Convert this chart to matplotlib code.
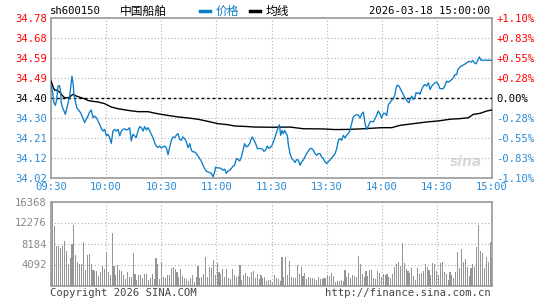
import numpy as np
import matplotlib
matplotlib.use("Agg")
import matplotlib.pyplot as plt

plt.rcParams['font.family'] = ['DejaVu Sans Mono', 'Noto Sans CJK SC']

# ---------------- data ----------------
prev_close = 34.40
y_labels_left = ["34.02", "34.12", "34.21", "34.30", "34.40", "34.49", "34.59", "34.68", "34.78"]
y_labels_right = ["-1.10%", "-0.83%", "-0.55%", "-0.28%", "0.00%", "+0.28%", "+0.55%", "+0.83%", "+1.10%"]
time_labels = ["09:30", "10:00", "10:30", "11:00", "11:30", "13:30", "14:00", "14:30", "15:00"]
vol_labels = ["", "4092", "8184", "12276", "16368"]
vol_ticks = [0, 4092, 8184, 12276, 16368]

price_min = [0, 0.9, 1.6, 2.4, 3.1, 3.8, 4.5, 5.1, 5.6, 6.3, 7.1, 7.8, 8.5, 9.3, 10.0, 10.7, 11.4, 12.0,
             12.5, 13.2, 14.0, 14.7, 15.4, 16.1, 16.9, 17.6, 18.3, 19.2, 20.1, 21.0, 21.9, 22.9, 23.8,
             24.7, 25.6, 26.5, 27.4, 28.3, 29.2, 30.1, 31.0, 31.9, 32.8, 33.7, 34.6, 35.6, 36.5, 37.4,
             38.3, 39.2, 40.1, 41.0, 41.9, 42.8, 43.7, 44.6, 45.5, 46.4, 47.3, 48.3, 49.2, 50.1, 51.0,
             51.9, 52.8, 53.7, 54.6, 55.5, 56.4, 57.3, 58.2,
             59.1, 60.0, 60.9, 61.9, 62.8, 63.7, 64.6, 65.5, 66.4, 67.3, 68.2, 69.1, 70.0, 70.9, 71.8,
             72.7, 73.6, 74.6, 75.5, 76.4, 77.3, 78.2, 79.1, 80.0, 80.9, 81.8, 82.7, 83.6, 84.5, 85.4,
             86.3, 87.3, 88.2, 89.1, 89.6, 90.5, 91.8, 92.7, 93.6, 94.5, 95.4, 96.3, 97.2, 98.1, 99.0,
             99.9, 100.9, 101.8, 102.7, 103.6, 104.5, 105.4, 106.3, 107.2, 108.1, 109.0, 109.6, 110.5,
             111.4, 112.3, 113.2, 114.1, 115.0, 115.9, 116.8, 117.7, 118.6, 119.5,
             120.1, 121.0, 121.9, 122.8, 123.7, 124.3, 125.0, 125.7, 126.4, 127.2, 127.9, 128.6, 129.2,
             130.1, 131.0, 131.9, 132.8, 133.7, 134.6, 135.5, 136.4, 137.3, 138.2, 139.1, 140.0, 141.0,
             141.9, 142.8, 143.7, 144.6, 145.5, 146.4, 147.3, 148.2, 149.1, 150.0, 150.9, 151.8, 152.7,
             153.7, 154.6, 155.5, 156.4, 157.3, 158.2, 159.1, 160.0, 160.9, 161.8, 162.7, 163.6, 164.5,
             165.4, 166.3, 167.3, 168.2, 169.1, 170.0, 170.9, 171.8, 172.7, 173.6, 174.5, 175.4, 176.3,
             177.2, 178.1, 179.0, 179.9,
             180.9, 181.8, 182.7, 183.6, 184.5, 185.4, 186.3, 187.2, 187.8, 188.5, 189.4, 190.3, 191.2,
             192.1, 193.0, 193.9, 194.8, 195.4, 196.3, 197.2, 198.1, 198.6, 199.4, 200.1, 200.8, 201.7,
             202.6, 203.5, 204.4, 205.4, 206.3, 207.2, 208.1, 209.0, 209.9, 210.8, 211.7, 212.6, 213.5,
             214.4, 215.3, 216.2, 217.1, 218.1, 219.0, 219.9, 220.8, 221.3, 222.2, 223.1, 224.0, 224.9,
             225.8, 226.8, 227.7, 228.6, 229.5, 230.4, 231.3, 232.2, 233.1, 234.0, 235.3, 237.1, 240.0]
price_val = [34.463, 34.424, 34.376, 34.364, 34.392, 34.455, 34.458, 34.439, 34.376, 34.353, 34.337,
             34.321, 34.345, 34.376, 34.400, 34.447, 34.502, 34.471, 34.416, 34.384, 34.353, 34.345,
             34.337, 34.329, 34.313, 34.298, 34.282, 34.298, 34.313, 34.332, 34.342, 34.305, 34.313,
             34.305, 34.290, 34.274, 34.253, 34.242, 34.250, 34.219, 34.227, 34.211, 34.184, 34.242,
             34.250, 34.242, 34.250, 34.219, 34.242, 34.250, 34.253, 34.247, 34.250, 34.258, 34.195,
             34.227, 34.219, 34.211, 34.242, 34.263, 34.258, 34.242, 34.263, 34.247, 34.258, 34.242,
             34.227, 34.211, 34.187, 34.171, 34.164,
             34.171, 34.162, 34.167, 34.171, 34.162, 34.130, 34.167, 34.198, 34.214, 34.211, 34.222,
             34.230, 34.203, 34.198, 34.214, 34.206, 34.193, 34.163, 34.182, 34.151, 34.143, 34.143,
             34.135, 34.124, 34.111, 34.099, 34.080, 34.064, 34.052, 34.048, 34.045, 34.041, 34.025,
             34.048, 34.072, 34.067, 34.067, 34.064, 34.056, 34.061, 34.041, 34.052, 34.056, 34.064,
             34.075, 34.080, 34.111, 34.108, 34.099, 34.119, 34.151, 34.182, 34.167, 34.171, 34.182,
             34.206, 34.214, 34.198, 34.182, 34.159, 34.159, 34.159, 34.156, 34.146, 34.151, 34.171,
             34.159, 34.167,
             34.170, 34.190, 34.214, 34.238, 34.261, 34.272, 34.222, 34.245, 34.230, 34.245, 34.230,
             34.222, 34.175, 34.135, 34.111, 34.104, 34.093, 34.107, 34.104, 34.080, 34.096, 34.104,
             34.119, 34.135, 34.146, 34.159, 34.159, 34.151, 34.135, 34.127, 34.135, 34.135, 34.119,
             34.111, 34.096, 34.088, 34.096, 34.104, 34.115, 34.124, 34.135, 34.159, 34.198, 34.206,
             34.198, 34.222, 34.209, 34.222, 34.230, 34.245, 34.277, 34.309, 34.316, 34.320, 34.316,
             34.304, 34.324, 34.332, 34.277, 34.249, 34.266, 34.285, 34.288, 34.285, 34.301, 34.316,
             34.337, 34.324, 34.304,
             34.326, 34.326, 34.316, 34.368, 34.376, 34.389, 34.395, 34.416, 34.447, 34.460, 34.455,
             34.439, 34.424, 34.408, 34.395, 34.384, 34.376, 34.392, 34.408, 34.392, 34.400, 34.424,
             34.420, 34.424, 34.416, 34.439, 34.455, 34.463, 34.455, 34.471, 34.439, 34.455, 34.463,
             34.471, 34.474, 34.463, 34.443, 34.443, 34.443, 34.458, 34.479, 34.474, 34.479, 34.487,
             34.495, 34.510, 34.510, 34.531, 34.542, 34.550, 34.553, 34.558, 34.562, 34.570, 34.573,
             34.569, 34.577, 34.566, 34.561, 34.578, 34.594, 34.578, 34.578, 34.578, 34.578]

avg_min = [0, 0.5, 1.3, 2.0, 2.9, 3.8, 4.7, 5.6, 6.5, 7.4, 9.3, 10.2, 11.1, 12.0, 13.8, 16.5, 18.3,
           20.1, 21.9, 25.6, 29.2, 32.8, 36.5, 41.9, 47.3, 52.8, 56.4, 58.8, 63.7, 69.1, 74.6, 80.0,
           85.4, 90.9, 96.3, 100.0, 105.4, 110.8, 119.9, 130.1, 137.3, 148.2, 154.6, 162.7, 170.0,
           180.0, 185.4, 189.9, 197.2, 204.4, 210.8, 217.1, 222.6, 227.1, 229.8, 233.5, 237.1, 240.0]
avg_val = [34.479, 34.468, 34.447, 34.436, 34.436, 34.432, 34.427, 34.416, 34.408, 34.400, 34.400,
           34.403, 34.411, 34.416, 34.408, 34.400, 34.395, 34.387, 34.384, 34.380, 34.372, 34.356,
           34.348, 34.340, 34.334, 34.334, 34.327, 34.323, 34.316, 34.309, 34.304, 34.298, 34.288,
           34.277, 34.272, 34.266, 34.264, 34.261, 34.260, 34.261, 34.253, 34.252, 34.249, 34.250,
           34.253, 34.258, 34.258, 34.269, 34.277, 34.285, 34.290, 34.298, 34.301, 34.305, 34.321,
           34.326, 34.337, 34.342]

volumes = [1960, 16368, 11590, 7660, 7660, 7330, 7700, 8700, 6740, 4250, 5300, 8050, 11780, 5960, 4520,
           4120, 4120, 8510, 3010, 5890, 6090, 4120, 2950, 2820, 2820, 1770, 2690, 3730, 3140, 6480,
           2620, 1960, 10210, 3730, 1960, 4060, 2950, 2750, 1960, 1180, 2550, 1570, 1640, 6290, 2160,
           980, 1960, 1960, 1370, 2290, 2160, 980, 1500, 2290, 1180, 5300, 4120, 1180, 4520, 1640, 1370,
           1960, 2090, 3340, 3540, 3140, 2550, 1570, 3140, 1770, 1500, 1180, 790, 1370, 1960, 650, 1570,
           3730, 1370, 1570, 2290, 5500, 1570, 3540, 3400, 4910, 1960, 4320, 2550, 2160, 3140, 1570,
           3140, 1370, 1180, 3140, 1960, 1570, 1770, 3930, 980, 1960, 2360, 1900, 1640, 2550, 2750,
           1370, 2160, 1180, 1960, 1370, 1570, 790, 980, 980, 590, 1960, 1370,
           1310, 790, 5500, 1570, 5500, 1960, 4710, 1570, 1370, 1370, 4060, 2160, 3540, 1770, 2360,
           1180, 1570, 1370, 1370, 1180, 980, 1570, 1180, 1180, 1370, 1370, 1960, 1830, 2360, 1770,
           590, 790, 850, 980, 790, 2950, 1570, 2360, 1370, 1960, 1770, 1570, 5700, 4120, 2160, 1570,
           2750, 1770, 2950, 2950, 1370, 1180, 2750, 2360, 1570, 2160, 1960, 2160, 1570, 1370, 2160,
           3540, 4120, 4520, 3730, 8250, 4320, 3140, 2750, 2360, 3340, 1770, 980, 3340, 2160, 2360,
           2750, 4120, 3540, 2950, 1960, 4320, 4120, 2750, 1960, 4320, 4650, 2550, 2160, 980, 2550,
           1960, 1370, 2550, 6550, 3340, 7070, 4520, 5110, 3540, 1770, 3340, 4120, 3540, 7460, 11780,
           6680, 6290, 3340, 5500, 4520, 8440, 5500]

# ---------------- style ----------------
BLUE = '#0a7cc8'
LBLUE = '#2a8ad4'
RED = '#ff0000'
GRID = '#b0b0b0'
FRAME = '#999999'
FS = 7.6

W, H = 545, 300
fig = plt.figure(figsize=(W / 100, H / 100), dpi=100)
fig.patch.set_facecolor('white')

def rect(l, t, r, b):
    return [l / W, 1 - b / H, (r - l) / W, (b - t) / H]

# ---------------- price axes ----------------
ax = fig.add_axes(rect(51, 18, 492, 177.5))
ax.set_xlim(0, 240)
lo, hi = prev_close * (1 - 0.011), prev_close * (1 + 0.011)
ax.set_ylim(lo, hi)
yt = [prev_close * (1 + k * 0.011 / 4) for k in range(-4, 5)]
ax.set_yticks(yt)
ax.set_yticklabels(y_labels_left, fontsize=FS)
xt = np.arange(0, 241, 30)
ax.set_xticks(xt)
ax.set_xticklabels(time_labels, fontsize=FS, color=LBLUE)
ax.tick_params(length=0, pad=3)
ax.grid(True, ls=(0, (1, 2)), color=GRID, lw=0.8)
for lab, k in zip(ax.get_yticklabels(), range(-4, 5)):
    lab.set_color(RED if k > 0 else ('black' if k == 0 else LBLUE))
for s in ax.spines.values():
    s.set_color(FRAME)
    s.set_linewidth(1.2)

ax.axhline(prev_close, color='black', ls=(0, (2, 2)), lw=1.0, zorder=3)
ax.plot(avg_min, avg_val, color='black', lw=1.0, zorder=4)
ax.plot(price_min, price_val, color=BLUE, lw=0.95, zorder=5)

ax2 = ax.twinx()
ax2.set_ylim(lo, hi)
ax2.set_yticks(yt)
ax2.set_yticklabels(y_labels_right, fontsize=FS)
ax2.tick_params(length=0, pad=3)
for lab, k in zip(ax2.get_yticklabels(), range(-4, 5)):
    lab.set_color(RED if k > 0 else ('black' if k == 0 else LBLUE))
for s in ax2.spines.values():
    s.set_visible(False)

# watermark
ax.text(0.94, 0.1, 'sina', transform=ax.transAxes, fontsize=10, style='italic', weight='bold',
        color='#d8d8d8', ha='center', va='center', family='DejaVu Sans', zorder=1)

# ---------------- volume axes ----------------
vax = fig.add_axes(rect(51, 201.5, 492, 285.5))
vx = np.linspace(0, 240, len(volumes))
vax.bar(vx, volumes, width=0.55, color='#959595', align='center', zorder=3,
        linewidth=0, antialiased=False)
vax.set_xlim(0, 240)
vax.set_ylim(0, 16368)
vax.set_yticks(vol_ticks)
vax.set_yticklabels(vol_labels, fontsize=FS, color='#888888')
vax.set_xticks(xt)
vax.set_xticklabels([])
vax.tick_params(length=0, pad=3)
vax.grid(True, ls=(0, (1, 2)), color=GRID, lw=0.8)
for s in vax.spines.values():
    s.set_color(FRAME)
    s.set_linewidth(1.2)

# ---------------- header / footer ----------------
ty = 1 - 11 / H
fig.text(50 / W, ty, 'sh600150', fontsize=FS, color='black', va='center', ha='left')
fig.text(120 / W, ty, '中国船舶', fontsize=8.5, color='black', va='center', ha='left',
         family=['Noto Sans CJK SC', 'DejaVu Sans'])
fig.add_artist(plt.Line2D([200 / W, 210 / W], [ty, ty], color=BLUE, lw=2.5))
fig.text(216 / W, ty, '价格', fontsize=8.5, color=BLUE, va='center', ha='left',
         family=['Noto Sans CJK SC', 'DejaVu Sans'])
fig.add_artist(plt.Line2D([250 / W, 260 / W], [ty, ty], color='black', lw=2.5))
fig.text(266 / W, ty, '均线', fontsize=8.5, color='black', va='center', ha='left',
         family=['Noto Sans CJK SC', 'DejaVu Sans'])
fig.text(490 / W, ty, '2026-03-18 15:00:00', fontsize=FS, color='black', va='center', ha='right')

by = 1 - 292.5 / H
fig.text(50 / W, by, 'Copyright 2026 SINA.COM', fontsize=FS, color='#444444', va='center', ha='left')
fig.text(491 / W, by, 'http://finance.sina.com.cn', fontsize=FS, color='#444444', va='center', ha='right')

fig.savefig('out.png', dpi=100, facecolor='white')
